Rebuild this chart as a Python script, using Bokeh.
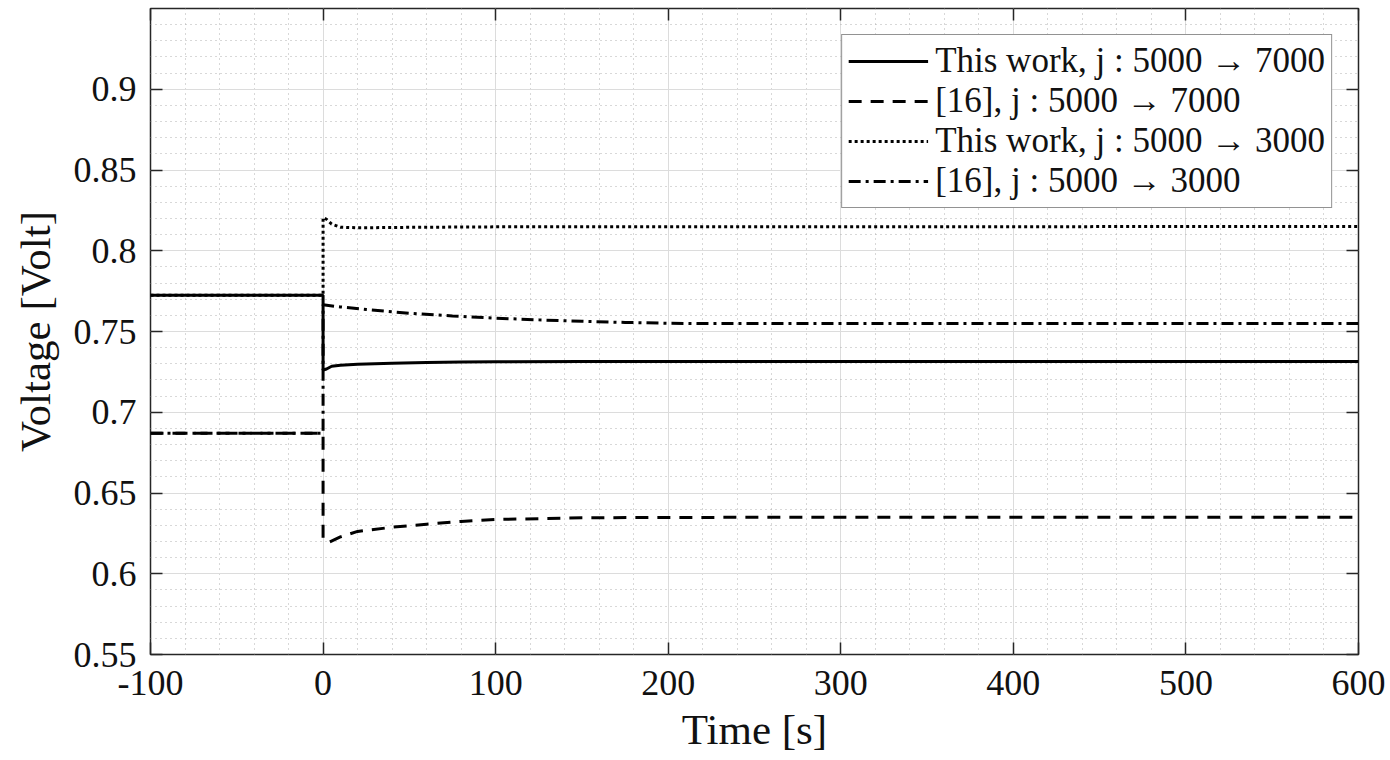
import numpy as np
from bokeh.plotting import figure
from bokeh.models import FixedTicker, LinearAxis, CustomJSTickFormatter
from bokeh.embed import file_html
from bokeh.resources import INLINE

# ---- data ----
t_tw7 = [-100, 0, 0, 2, 5, 10, 20, 40, 60, 80, 100, 150, 200, 600]
v_tw7 = [0.7725, 0.7725, 0.7262, 0.7268, 0.7285, 0.7291, 0.7297, 0.7304, 0.7308, 0.7311, 0.7313, 0.7314, 0.7314, 0.7314]

t_r7 = [-100, 0, 0, 3, 10, 20, 40, 60, 80, 100, 150, 200, 600]
v_r7 = [0.687, 0.687, 0.6222, 0.6193, 0.6228, 0.6262, 0.6288, 0.6307, 0.6324, 0.6336, 0.6346, 0.6349, 0.635]

t_tw3 = [-100, 0, 0, 2, 5, 10, 20, 50, 100, 600]
v_tw3 = [0.7725, 0.7725, 0.8205, 0.8195, 0.8165, 0.8146, 0.8142, 0.8145, 0.8148, 0.815]

t_r3 = [-100, 0, 0, 10, 25, 50, 75, 100, 125, 150, 175, 200, 225, 600]
v_r3 = [0.687, 0.687, 0.7665, 0.7652, 0.7636, 0.7613, 0.7596, 0.7583, 0.7572, 0.7563, 0.7556, 0.7551, 0.7549, 0.7549]

labels = ["This work, j : 5000 \u2192 7000", "[16], j : 5000 \u2192 7000",
          "This work, j : 5000 \u2192 3000", "[16], j : 5000 \u2192 3000"]

x_ticks = [-100, 0, 100, 200, 300, 400, 500, 600]
y_ticks = [0.55, 0.6, 0.65, 0.7, 0.75, 0.8, 0.85, 0.9]
x_minor = list(np.arange(-100, 601, 20))
y_minor = list(np.round(np.arange(0.55, 0.9501, 0.01), 3))

FONT = "Liberation Serif"
INK = "#262626"

p = figure(frame_width=1208, frame_height=646, x_range=(-100, 600), y_range=(0.55, 0.95),
           output_backend="svg", toolbar_location=None,
           min_border_left=150, min_border_right=30, min_border_top=8, min_border_bottom=100,
           x_axis_label="Time [s]", y_axis_label="Voltage [Volt]")

p.outline_line_color = INK
p.outline_line_width = 1.5
p.outline_line_alpha = 1.0

fmt = CustomJSTickFormatter(code="return String(Math.round(tick*100)/100);")
xt = FixedTicker(ticks=x_ticks, minor_ticks=x_minor)
yt = FixedTicker(ticks=y_ticks, minor_ticks=y_minor)

for ax in p.xaxis:
    ax.ticker = xt
for ax in p.yaxis:
    ax.ticker = yt

for ax in list(p.xaxis) + list(p.yaxis):
    ax.formatter = fmt
    ax.axis_line_color = None
    ax.major_tick_in = 12
    ax.major_tick_out = 0
    ax.minor_tick_in = 0
    ax.minor_tick_out = 0
    ax.major_tick_line_color = INK
    ax.major_tick_line_width = 1.5
    ax.major_label_text_font = FONT
    ax.major_label_text_font_size = "36px"
    ax.major_label_text_color = "#111111"
    ax.axis_label_text_font = FONT
    ax.axis_label_text_font_size = "43px"
    ax.axis_label_text_font_style = "normal"
    ax.axis_label_text_color = "#111111"

p.xaxis.major_label_standoff = 16
p.yaxis.major_label_standoff = 14
p.xaxis.axis_label_standoff = 8
p.yaxis.axis_label_standoff = 12

top = LinearAxis(ticker=FixedTicker(ticks=x_ticks), axis_line_color=None, major_tick_in=12, major_tick_out=0,
                 minor_tick_in=0, minor_tick_out=0, major_tick_line_color=INK, major_tick_line_width=1.5,
                 major_label_text_font_size="1px", major_label_text_color=None, major_label_standoff=0)
right = LinearAxis(ticker=FixedTicker(ticks=y_ticks), axis_line_color=None, major_tick_in=12, major_tick_out=0,
                   minor_tick_in=0, minor_tick_out=0, major_tick_line_color=INK, major_tick_line_width=1.5,
                   major_label_text_font_size="1px", major_label_text_color=None, major_label_standoff=0)
p.add_layout(top, "above")
p.add_layout(right, "right")

for g in [p.xgrid, p.ygrid]:
    g.grid_line_color = "#dcdcdc"
    g.grid_line_width = 1
    g.minor_grid_line_color = "#b0b0b0"
    g.minor_grid_line_dash = "1 4"
    g.minor_grid_line_width = 1
p.xgrid.ticker = xt
p.ygrid.ticker = yt

p.line(t_tw7, v_tw7, line_color="black", line_width=3, legend_label=labels[0])
p.line(t_r7, v_r7, line_color="black", line_width=3, line_dash="13 9", legend_label=labels[1])
p.line(t_tw3, v_tw3, line_color="black", line_width=3, line_dash="3 3", legend_label=labels[2])
p.line(t_r3, v_r3, line_color="black", line_width=3, line_dash="12 5 3 5", legend_label=labels[3])

lg = p.legend[0]
lg.location = "top_right"
lg.margin = 26
lg.border_line_color = INK
lg.border_line_width = 1.5
lg.background_fill_alpha = 1.0
lg.label_text_font = FONT
lg.label_text_font_size = "35px"
lg.label_text_color = "#111111"
lg.glyph_width = 80
lg.glyph_height = 30
lg.label_height = 34
lg.label_standoff = 7
lg.padding = 6
lg.spacing = 0

open("out.html", "w").write(file_html(p, INLINE))
